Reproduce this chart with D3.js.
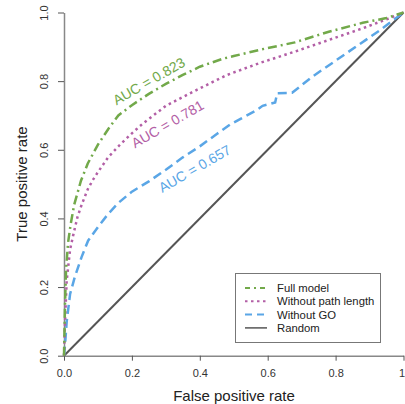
<!DOCTYPE html>
<html><head><meta charset="utf-8">
<script src="https://cdn.jsdelivr.net/npm/d3@7"></script>
<style>body{margin:0;background:#fff}svg{display:block;font-family:"Liberation Sans",Arial,sans-serif}</style>
</head><body><svg id="c" width="405" height="404"></svg>
<script>
const xTicks = [0, 0.2, 0.4, 0.6, 0.8, 1];
const xTickLabels = ["0.0", "0.2", "0.4", "0.6", "0.8", "1"];
const yTicks = [0, 0.2, 0.4, 0.6, 0.8, 1];
const yTickLabels = ["0.0", "0.2", "0.4", "0.6", "0.8", "1.0"];
const seriesNames = ["Full model", "Without path length", "Without GO", "Random"];
const aucLabels = ["AUC = 0.823", "AUC = 0.781", "AUC = 0.657"];
const aucAnchor = [[0.25, 0.8], [0.305, 0.675], [0.385, 0.545]];
const fullModel = [[0,0],[0.003,0.15],[0.006,0.25],[0.012,0.33],[0.02,0.385],[0.03,0.44],[0.05,0.51],[0.07,0.56],[0.1,0.615],[0.13,0.66],[0.16,0.7],[0.2,0.73],[0.25,0.763],[0.3,0.792],[0.35,0.818],[0.4,0.842],[0.47,0.866],[0.5,0.873],[0.58,0.892],[0.68,0.913],[0.78,0.944],[0.88,0.97],[0.95,0.984],[1,1]];
const noPath = [[0,0],[0.003,0.1],[0.008,0.22],[0.018,0.31],[0.028,0.355],[0.04,0.405],[0.052,0.44],[0.07,0.485],[0.085,0.512],[0.1,0.535],[0.13,0.578],[0.165,0.615],[0.2,0.648],[0.233,0.677],[0.3,0.728],[0.39,0.774],[0.48,0.818],[0.58,0.854],[0.68,0.886],[0.78,0.92],[0.88,0.954],[0.95,0.98],[1,1]];
const noGO = [[0,0],[0.003,0.03],[0.008,0.1],[0.018,0.18],[0.032,0.23],[0.052,0.288],[0.071,0.335],[0.1,0.375],[0.13,0.413],[0.16,0.445],[0.2,0.478],[0.25,0.508],[0.3,0.542],[0.35,0.578],[0.4,0.61],[0.45,0.646],[0.49,0.674],[0.52,0.69],[0.565,0.714],[0.585,0.728],[0.622,0.738],[0.628,0.765],[0.672,0.766],[0.73,0.812],[0.83,0.88],[0.93,0.948],[1,1]];
const randomLine = [[0,0],[1,1]];

const colors = ["#72a94a", "#b35fa6", "#5aa6e6", "#555555"];
const dashes = ["9,4,2,4", "2.5,3.5", "9,5", null];
const data = [fullModel, noPath, noGO, randomLine];

const svg = d3.select("#c");
const x = d3.scaleLinear().domain([0,1]).range([64, 403.5]);
const y = d3.scaleLinear().domain([0,1]).range([355.7, 12.5]);

// axes
const xAxis = svg.append("g").attr("transform", `translate(0,${y(0)})`)
  .call(d3.axisBottom(x).tickValues(xTicks).tickFormat((d,i)=>xTickLabels[i]).tickSize(5).tickSizeOuter(0));
const yAxis = svg.append("g").attr("transform", `translate(${x(0)},0)`)
  .call(d3.axisLeft(y).tickValues(yTicks).tickFormat((d,i)=>yTickLabels[i]).tickSize(6).tickSizeOuter(0));
[xAxis, yAxis].forEach(a => {
  a.select(".domain").attr("stroke", "#888").attr("stroke-width", 1.5);
  a.selectAll(".tick line").attr("stroke", "#555");
  a.selectAll(".tick text").attr("fill", "#333").attr("font-size", 11).attr("font-family", "Liberation Sans, Arial, sans-serif");
});
xAxis.selectAll(".tick text").attr("dy", null).attr("y", 21);
xAxis.selectAll(".tick text").filter(d => d === 1).attr("text-anchor", "end").attr("x", 1);
yAxis.selectAll(".tick text").attr("x", null).attr("dy", null)
  .attr("transform", "translate(-13,0) rotate(-90)").attr("text-anchor", "middle").attr("y", -3).attr("x", 0);

svg.append("text").attr("x", 234).attr("y", 401).attr("text-anchor", "middle")
  .attr("font-size", 15).attr("fill", "#222").text("False positive rate");
svg.append("text").attr("transform", "translate(27,184) rotate(-90)").attr("text-anchor", "middle")
  .attr("font-size", 15).attr("fill", "#222").text("True positive rate");

const line = d3.line().x(d => x(d[0])).y(d => y(d[1]));
[3, 2, 1, 0].forEach(i => {
  svg.append("path").datum(data[i]).attr("d", line).attr("fill", "none")
    .attr("stroke", colors[i]).attr("stroke-width", i === 3 ? 2 : 2.5)
    .attr("stroke-dasharray", dashes[i]);
});

aucLabels.forEach((t, i) => {
  svg.append("text").attr("transform", `translate(${x(aucAnchor[i][0])},${y(aucAnchor[i][1])}) rotate(-30)`)
    .attr("text-anchor", "middle").attr("dy", "0.35em").attr("font-size", 14).attr("fill", colors[i]).text(t);
});

// legend
const lg = svg.append("g");
lg.append("rect").attr("x", 235.5).attr("y", 273.5).attr("width", 145).attr("height", 69)
  .attr("fill", "#fff").attr("stroke", "#777").attr("stroke-width", 1);
seriesNames.forEach((n, i) => {
  const yy = 288 + i * 13.3;
  lg.append("line").attr("x1", 245).attr("x2", 267).attr("y1", yy).attr("y2", yy)
    .attr("stroke", colors[i]).attr("stroke-width", i === 3 ? 1.5 : 2)
    .attr("stroke-dasharray", i === 0 ? "5,4,2,4" : i === 1 ? "2.5,3.5" : i === 2 ? "7,5" : null);
  lg.append("text").attr("x", 277).attr("y", yy).attr("dy", "0.35em").attr("font-size", 11.3)
    .attr("fill", "#222").text(n);
});
</script></body></html>
